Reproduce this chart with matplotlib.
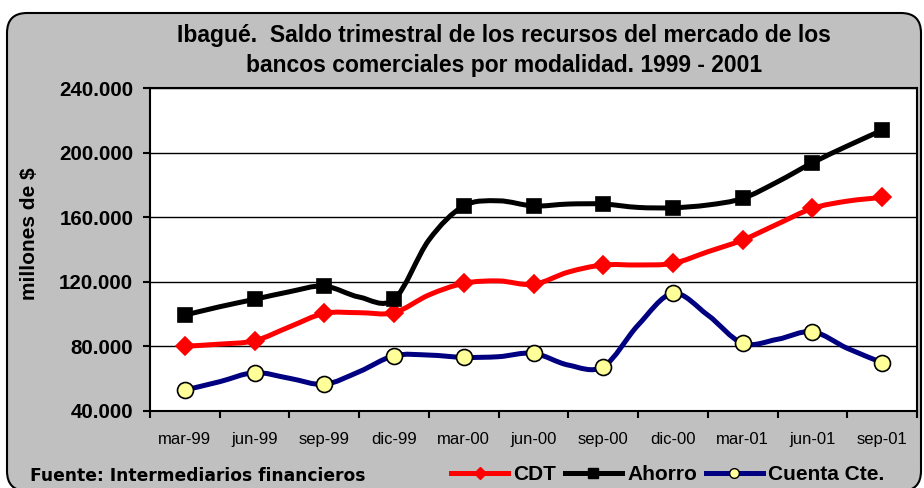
import numpy as np
import matplotlib.pyplot as plt
from matplotlib.path import Path
from matplotlib.patches import PathPatch, FancyBboxPatch
from matplotlib.lines import Line2D
from matplotlib.ticker import FuncFormatter

# quarterly labels; values are read at each label and halfway between labels
quarters = ["mar-99", "jun-99", "sep-99", "dic-99", "mar-00", "jun-00",
            "sep-00", "dic-00", "mar-01", "jun-01", "sep-01"]
positions = np.arange(0, 10.01, 0.5)

cdt = [80000, 81300, 83400, 92000, 100400, 100800, 100800, 111800, 119000, 120500,
       118400, 126000, 130400, 130400, 131400, 138600, 145900, 155800, 165500,
       170000, 172300]
ahorro = [99300, 104500, 109100, 113800, 117300, 110500, 109100, 145900, 167000,
          170200, 167000, 168200, 168200, 166100, 165900, 167600, 171700, 182000,
          193800, 204200, 214000]
cuenta = [52800, 58000, 63600, 60100, 56400, 64200, 74100, 74500, 73100, 73500,
          75600, 68300, 67300, 93100, 112800, 99300, 81800, 84300, 89000, 78700,
          69800]

plt.rcParams["font.family"] = ["Liberation Sans", "DejaVu Sans"]
GRAY = "#C0C0C0"


def smooth_path(x, y):
    # excel style smoothed line: bezier through every point
    n = len(x)
    verts = [(x[0], y[0])]
    codes = [Path.MOVETO]
    for i in range(n - 1):
        a = max(i - 1, 0)
        d = min(i + 2, n - 1)
        c1 = (x[i] + (x[i + 1] - x[a]) / 6, y[i] + (y[i + 1] - y[a]) / 6)
        c2 = (x[i + 1] - (x[d] - x[i]) / 6, y[i + 1] - (y[d] - y[i]) / 6)
        verts += [c1, c2, (x[i + 1], y[i + 1])]
        codes += [Path.CURVE4] * 3
    return Path(verts, codes)


fig = plt.figure(figsize=(9.24, 4.88), dpi=100, facecolor="white")

box = FancyBboxPatch((0.07, -0.03), 9.14, 4.78,
                     boxstyle="round,pad=0,rounding_size=0.2",
                     transform=fig.dpi_scale_trans,
                     facecolor=GRAY, edgecolor="black", lw=1.5, zorder=-5)
fig.patches.append(box)

ax = fig.add_axes([150 / 924, 1 - 410.7 / 488, 767 / 924, 322.4 / 488])
ax.set_facecolor("white")

series = [
    (cdt, "#FF0000", "D", 9, "#FF0000", "CDT", 6),
    (ahorro, "black", "s", 9.5, "black", "Ahorro", 7),
    (cuenta, "#000080", "o", 11.5, "#FFFF99", "Cuenta Cte.", 7),
]
handles = []
for vals, col, mk, ms, fc, name, lms in series:
    ax.add_patch(PathPatch(smooth_path(positions, vals), fill=False,
                           edgecolor=col, lw=3.6, capstyle="round",
                           joinstyle="round", zorder=2))
    ax.plot(positions[::2], vals[::2], ls="none", marker=mk, ms=ms,
            mfc=fc, mec="black" if mk == "o" else col, mew=1.2, zorder=3)
    handles.append(Line2D([], [], color=col, lw=3.6, marker=mk, ms=lms,
                          mfc=fc, mec="black" if mk == "o" else col, mew=1))

ax.set_xlim(-0.5, 10.5)
ax.set_ylim(40000, 240000)
ax.set_yticks(np.arange(40000, 240001, 40000))
ax.yaxis.set_major_formatter(FuncFormatter(lambda v, p: f"{int(v):,}".replace(",", ".")))
ax.yaxis.grid(True, color="black", lw=1)
ax.set_axisbelow(True)

ax.set_xticks(np.arange(-0.5, 10.6, 1))
ax.set_xticklabels([])
ax.set_xticks(range(len(quarters)), minor=True)
ax.set_xticklabels(quarters, minor=True, fontsize=12)
ax.tick_params(axis="x", which="major", length=5, width=1.5, direction="out")
ax.tick_params(axis="x", which="minor", length=0, pad=15)
ax.tick_params(axis="y", length=5, width=1.5, pad=7, labelsize=14.8)
for t in ax.get_yticklabels():
    t.set_fontweight("bold")
for s in ax.spines.values():
    s.set_linewidth(1.5)

fig.text(29.5 / 924, 1 - 234 / 488, "millones de $", rotation=90,
         fontsize=15, fontweight="bold", ha="center", va="center")

fig.text(504 / 924, 1 - 42 / 488,
         "Ibagué.  Saldo trimestral de los recursos del mercado de los",
         fontsize=16.5, fontweight="bold", ha="center", va="baseline")
fig.text(504 / 924, 1 - 72 / 488,
         "bancos comerciales por modalidad. 1999 - 2001",
         fontsize=16.5, fontweight="bold", ha="center", va="baseline")

fig.text(30 / 924, 1 - 476 / 488, "Fuente: Intermediarios financieros",
         fontsize=12.3, fontweight="bold", family="DejaVu Sans",
         ha="left", va="center")

fig.legend(handles=handles, labels=[s[5] for s in series],
           ncol=3, loc="center left", bbox_to_anchor=(451 / 924, 1 - 475 / 488),
           frameon=False, prop={"weight": "bold", "size": 15},
           handlelength=2.74, handletextpad=0.24, columnspacing=0.43,
           borderpad=0, borderaxespad=0, numpoints=1)

fig.savefig("out.png", dpi=100, facecolor="white")
plt.close(fig)
